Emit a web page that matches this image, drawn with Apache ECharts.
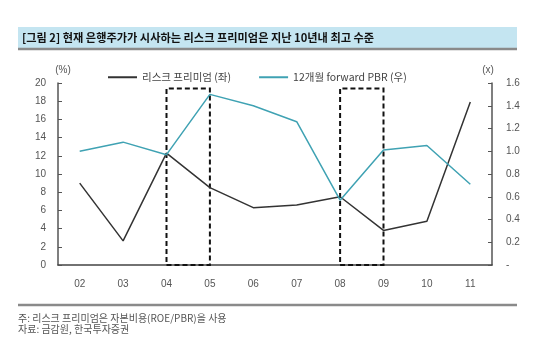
<!DOCTYPE html>
<html>
<head>
<meta charset="utf-8">
<script src="https://cdn.jsdelivr.net/npm/echarts@6/dist/echarts.min.js"></script>
<style>html,body{margin:0;padding:0;background:#fff;}#c{width:550px;height:342px;}</style>
</head>
<body>
<div id="c"></div>
<script>
var categories = ['02','03','04','05','06','07','08','09','10','11'];
var riskPremium = [9.0, 2.65, 12.3, 8.5, 6.3, 6.6, 7.5, 3.8, 4.8, 17.9];
var fwdPBR = [1.0, 1.08, 0.97, 1.50, 1.40, 1.26, 0.57, 1.01, 1.05, 0.71];
var highlightPeriods = [['04','05'], ['08','09']];
var highlightTop = 19.4;
var leftTicks = {min: 0, max: 20, interval: 2};
var rightTicks = {min: 0, max: 1.6, interval: 0.2};
var seriesNames = ['리스크 프리미엄 (좌)', '12개월 forward PBR (우)'];
var titleText = '[그림 2] 현재 은행주가가 시사하는 리스크 프리미엄은 지난 10년내 최고 수준';
var note1 = '주: 리스크 프리미엄은 자본비용(ROE/PBR)을 사용';
var note2 = '자료: 금감원, 한국투자증권';

var KR = '"Noto Sans CJK KR", "Noto Sans", sans-serif';
var LAT = '"Liberation Sans", Arial, sans-serif';

var chart = echarts.init(document.getElementById('c'), null, {renderer: 'canvas'});
chart.setOption({
  animation: false,
  backgroundColor: '#fff',
  textStyle: {fontFamily: KR},
  grid: {left: 58, right: 58, top: 83, bottom: 77},
  legend: {
    left: 103, top: 67, itemGap: 28, itemWidth: 29, itemHeight: 2, icon: 'rect',
    textStyle: {fontSize: 10.5, color: '#444', fontFamily: KR},
    data: seriesNames
  },
  xAxis: {
    type: 'category', data: categories, boundaryGap: true,
    axisLine: {lineStyle: {color: '#444', width: 1.5}},
    axisTick: {inside: true, length: 4, lineStyle: {color: '#444'}},
    axisLabel: {color: '#555', fontSize: 10, fontFamily: LAT, margin: 14}
  },
  yAxis: [{
    type: 'value', min: leftTicks.min, max: leftTicks.max, interval: leftTicks.interval,
    splitLine: {show: false},
    axisLine: {show: true, lineStyle: {color: '#555', width: 1.5}},
    axisTick: {show: true, inside: true, length: 4, lineStyle: {color: '#555'}},
    axisLabel: {color: '#555', fontSize: 10, fontFamily: LAT, margin: 12}
  }, {
    type: 'value', min: rightTicks.min, max: rightTicks.max, interval: rightTicks.interval,
    position: 'right',
    splitLine: {show: false},
    axisLine: {show: true, lineStyle: {color: '#555', width: 1.5}},
    axisTick: {show: true, inside: true, length: 4, lineStyle: {color: '#555'}},
    axisLabel: {color: '#555', fontSize: 10, fontFamily: LAT, margin: 14,
      formatter: function (v) { return v === 0 ? '-' : v.toFixed(1); }}
  }],
  series: [{
    name: seriesNames[0], type: 'line', yAxisIndex: 0, data: riskPremium,
    symbol: 'none', lineStyle: {color: '#333', width: 1.5}, itemStyle: {color: '#333'},
    markArea: {
      silent: true,
      itemStyle: {color: 'rgba(0,0,0,0)', borderColor: '#111', borderWidth: 2, borderType: [5, 3]},
      label: {show: false},
      data: highlightPeriods.map(function (p) {
        return [{xAxis: p[0], yAxis: 0}, {xAxis: p[1], yAxis: highlightTop}];
      })
    }
  }, {
    name: seriesNames[1], type: 'line', yAxisIndex: 1, data: fwdPBR,
    symbol: 'none', lineStyle: {color: '#3fa2b3', width: 1.5}, itemStyle: {color: '#3fa2b3'}
  }],
  graphic: [
    {type: 'rect', shape: {x: 18, y: 27, width: 499, height: 21}, style: {fill: '#c4e5f1'}},
    {type: 'line', shape: {x1: 18, y1: 49, x2: 517, y2: 49}, style: {stroke: '#8a8a8a', lineWidth: 2.5}},
    {type: 'text', x: 22, y: 38, style: {text: titleText, fill: '#111', font: 'bold 11.2px ' + KR, verticalAlign: 'middle'}},
    {type: 'text', x: 63, y: 70, style: {text: '(%)', fill: '#555', font: '10px ' + LAT, align: 'center', verticalAlign: 'middle'}},
    {type: 'text', x: 488, y: 70, style: {text: '(x)', fill: '#555', font: '10px ' + LAT, align: 'center', verticalAlign: 'middle'}},
    {type: 'line', shape: {x1: 18, y1: 305, x2: 517, y2: 305}, style: {stroke: '#8a8a8a', lineWidth: 2.5}},
    {type: 'text', x: 18, y: 318, style: {text: note1, fill: '#555', font: '10px ' + KR, verticalAlign: 'middle'}},
    {type: 'text', x: 18, y: 329, style: {text: note2, fill: '#555', font: '10px ' + KR, verticalAlign: 'middle'}}
  ]
});
</script>
</body>
</html>
